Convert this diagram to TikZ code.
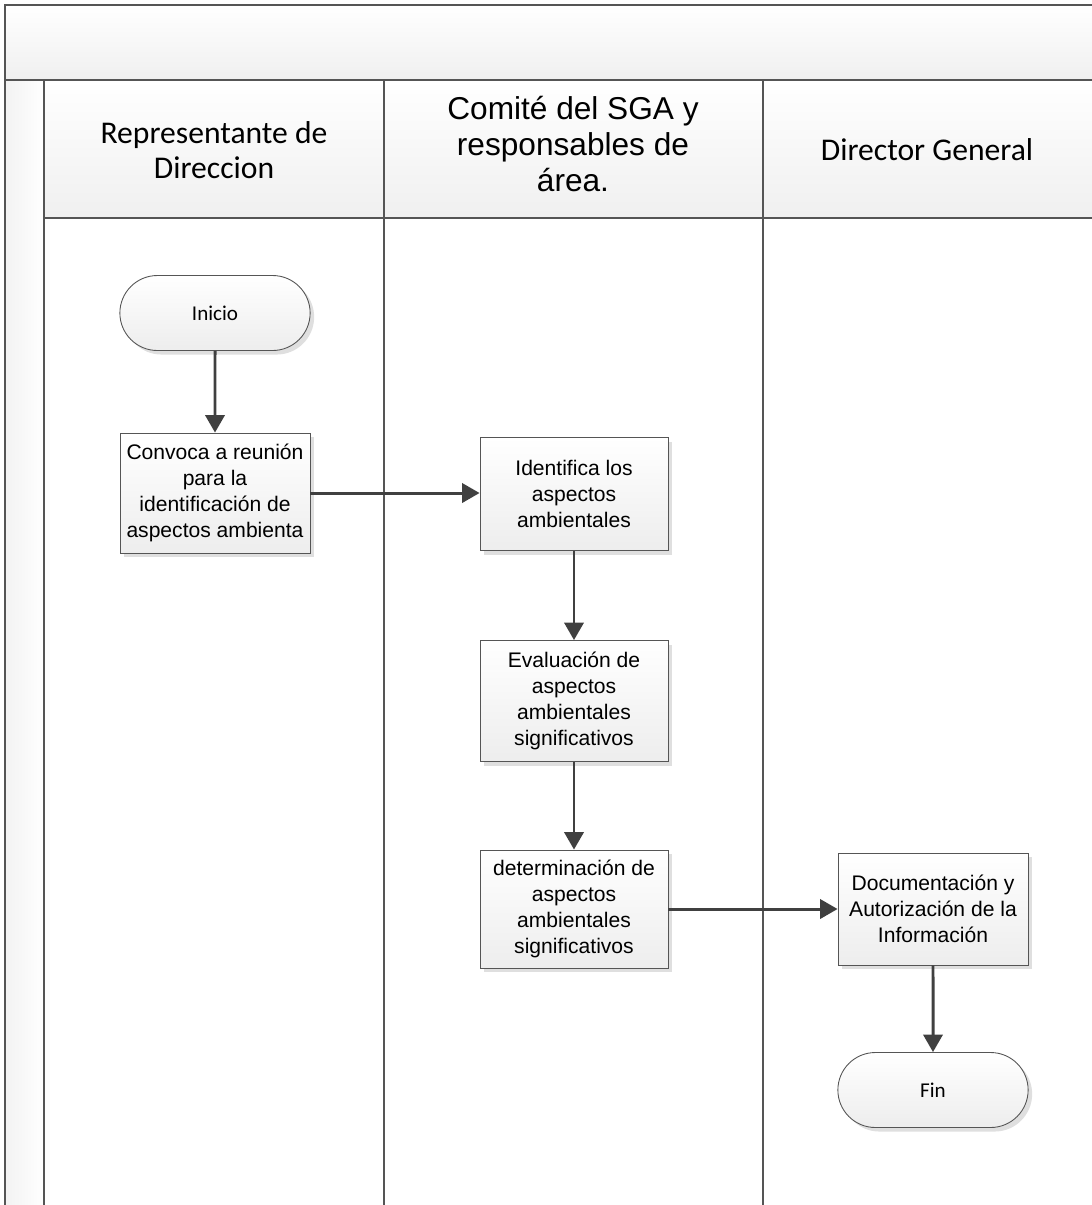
\documentclass[tikz,border=0pt]{standalone}
\usepackage{fontspec}
\setmainfont{Liberation Sans}
\newfontfamily\calibri{Carlito}
\usepackage{xcolor}
\usetikzlibrary{arrows.meta, shadows, shapes.misc}

\definecolor{lanegray}{HTML}{555555}
\definecolor{arrowgray}{HTML}{404040}

\begin{document}
\begin{tikzpicture}[x=0.02cm, y=-0.02cm,
  lane/.style={draw=lanegray, line width=1.1pt},
  procbox/.style={draw=lanegray, line width=0.5pt, top color=white, bottom color=gray!14,
    minimum width=3.8cm, align=center, inner sep=2pt,
    font=\fontsize{12}{14.7}\selectfont,
    drop shadow={shadow xshift=2.3pt, shadow yshift=-2.3pt, fill=gray!25, opacity=1}},
  terminal/.style={rounded rectangle, draw=lanegray, line width=0.5pt, top color=white, bottom color=gray!14,
    minimum width=4.04cm, minimum height=1.5cm,
    font=\calibri\fontsize{12}{14}\selectfont,
    drop shadow={shadow xshift=2.3pt, shadow yshift=-2.3pt, fill=gray!25, opacity=1}},
  flow/.style={draw=arrowgray, line width=1.7pt, -{Triangle[length=10pt, width=11pt]}}]
  \useasboundingbox (0, 0) rectangle (1092, 1205);
  \clip (0, 0) rectangle (1092, 1205);

  % Pool and lanes
  \shade[top color=white, bottom color=gray!12] (5, 5) rectangle (1110, 80);
  \shade[left color=gray!10, right color=white] (5, 80) rectangle (44, 1215);
  \shade[top color=white, bottom color=gray!12] (44, 80) rectangle (1110, 218);
  \draw[lane] (1110, 5) -- (5, 5) -- (5, 1215);
  \draw[lane] (5, 80) -- (1110, 80);
  \draw[lane] (44, 218) -- (1110, 218);
  \draw[lane] (44, 80) -- (44, 1215);
  \draw[lane] (384, 80) -- (384, 1215);
  \draw[lane] (763, 80) -- (763, 1215);

  % Lane headers
  \node[align=center, font=\calibri\fontsize{18}{20}\selectfont] (repdir) at (214, 150)
    {Representante de\\Direccion};
  \node[align=center, font=\fontsize{18}{20.5}\selectfont] (comite) at (573, 144)
    {Comité del SGA y\\responsables de\\área.};
  \node[align=center, font=\calibri\fontsize{18}{20}\selectfont] (dirgen) at (927, 150)
    {Director General};

  % Steps
  \node[terminal] (inicio) at (215, 313) {Inicio};
  \node[procbox, minimum height=2.4cm] (convoca) at (215, 493)
    {Convoca a reunión\\para la\\identificación de\\aspectos ambienta};
  \node[procbox, minimum width=3.76cm, minimum height=2.26cm] (identifica) at (574, 494)
    {Identifica los\\aspectos\\ambientales};
  \node[procbox, minimum width=3.76cm, minimum height=2.42cm] (evalua) at (574, 701)
    {Evaluación de\\aspectos\\ambientales\\significativos};
  \node[procbox, minimum width=3.76cm, minimum height=2.36cm] (determina) at (574, 909)
    {determinación de\\aspectos\\ambientales\\significativos};
  \node[procbox, minimum height=2.24cm] (documenta) at (933, 909)
    {Documentación y\\Autorización de la\\Información};
  \node[terminal] (fin) at (933, 1090) {Fin};

  % Flow
  \draw[flow] (inicio) -- (convoca);
  \draw[flow] (convoca.east) -- (identifica.west |- convoca.east);
  \draw[flow] (identifica) -- (evalua);
  \draw[flow] (evalua) -- (determina);
  \draw[flow] (determina) -- (documenta);
  \draw[flow] (documenta) -- (fin);
\end{tikzpicture}
\end{document}
